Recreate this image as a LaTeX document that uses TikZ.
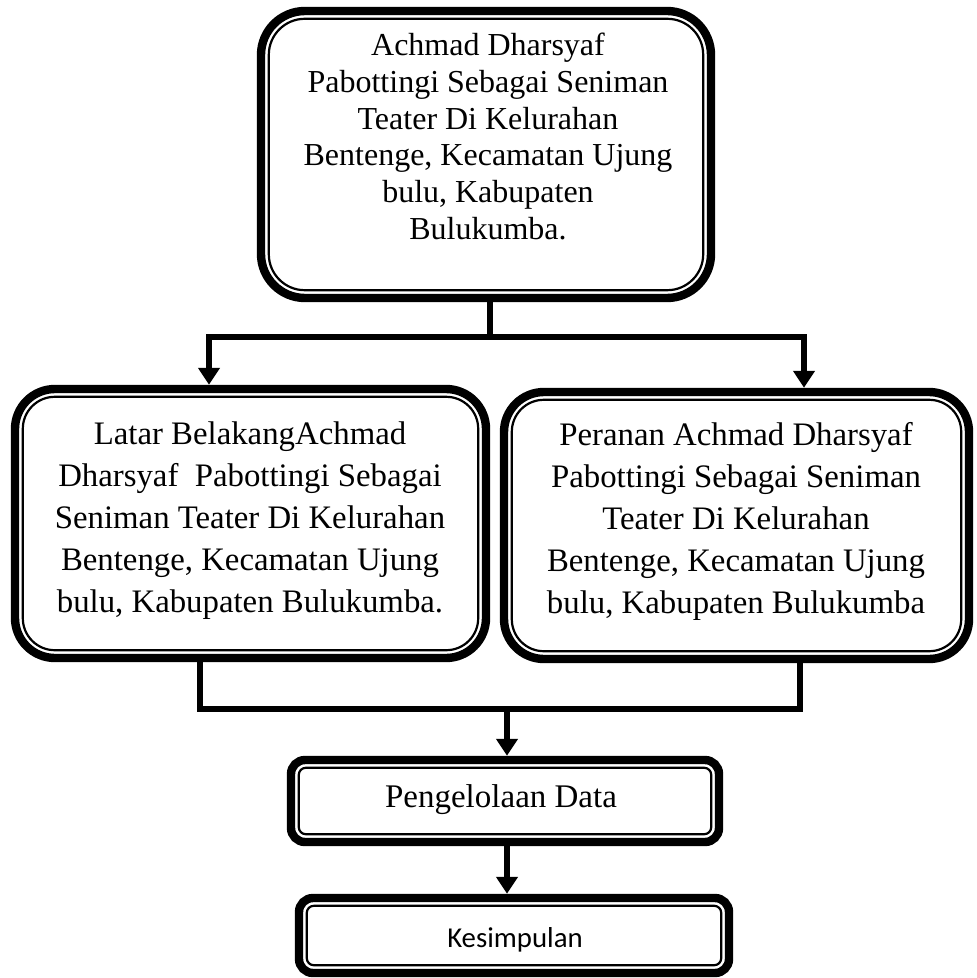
\documentclass[tikz,border=0pt]{standalone}
\usepackage{fontspec}
\setmainfont{Liberation Serif}
\newfontfamily\calib{Carlito}
\usetikzlibrary{arrows.meta}
\begin{document}
\begin{tikzpicture}[x=0.5pt,y=-0.5pt,
  obox/.style={draw=black, line width=4.2pt, inner sep=0pt},
  ibox/.style={draw=black, line width=1.1pt},
  txt/.style={align=center, inner sep=0pt},
  conn/.style={draw=black, line width=3pt, line join=miter},
  arr/.style={conn, -{Triangle[length=8.5pt,width=10.5pt]}}]
\useasboundingbox (0,0) rectangle (977,978);
% boxes
\node[obox, minimum width=225pt, minimum height=143.5pt, rounded corners=22pt] (top) at (486,154.5) {};
\draw[ibox, rounded corners=18pt] ([shift={(12,12)}]top.north west) rectangle ([shift={(-12,-12)}]top.south east);
\node[obox, minimum width=235.5pt, minimum height=134.5pt, rounded corners=20pt] (left) at (250.5,523.5) {};
\draw[ibox, rounded corners=16pt] ([shift={(12,12)}]left.north west) rectangle ([shift={(-12,-12)}]left.south east);
\node[obox, minimum width=232.5pt, minimum height=133.5pt, rounded corners=20pt] (right) at (736.5,525.5) {};
\draw[ibox, rounded corners=16pt] ([shift={(12,12)}]right.north west) rectangle ([shift={(-12,-12)}]right.south east);
\node[obox, minimum width=214pt, minimum height=41pt, rounded corners=7pt] (peng) at (505,801) {};
\draw[ibox, rounded corners=3.5pt] ([shift={(12,12)}]peng.north west) rectangle ([shift={(-12,-12)}]peng.south east);
\node[obox, minimum width=215pt, minimum height=37.5pt, rounded corners=7pt] (kes) at (514,935.5) {};
\draw[ibox, rounded corners=3.5pt] ([shift={(12,12)}]kes.north west) rectangle ([shift={(-12,-12)}]kes.south east);
% texts
\node[txt, font=\fontsize{16pt}{18.35pt}\selectfont] (ttop) at (488,136.5)
  {Achmad Dharsyaf\\Pabottingi Sebagai Seniman\\Teater Di Kelurahan\\Bentenge, Kecamatan Ujung\\bulu, Kabupaten\\Bulukumba.};
\node[txt, font=\fontsize{16.4pt}{21pt}\selectfont] (tleft) at (250,521)
  {Latar BelakangAchmad\\Dharsyaf\ \ Pabottingi Sebagai\\Seniman Teater Di Kelurahan\\Bentenge, Kecamatan Ujung\\bulu, Kabupaten Bulukumba.};
\node[txt, font=\fontsize{16.4pt}{21pt}\selectfont] (tright) at (736,521)
  {Peranan Achmad Dharsyaf\\Pabottingi Sebagai Seniman\\Teater Di Kelurahan\\Bentenge, Kecamatan Ujung\\bulu, Kabupaten Bulukumba};
\node[txt, font=\fontsize{16.5pt}{20pt}\selectfont] (tpeng) at (501,800) {Pengelolaan Data};
\node[txt, font=\calib\fontsize{14.4pt}{17pt}\selectfont] (tkes) at (515,940) {Kesimpulan};
% connectors
\coordinate (j1) at (490,337);
\coordinate (aL) at (209,337);
\coordinate (aR) at (804,337);
\draw[conn] (top.south -| j1) -- (j1);
\draw[arr] (j1) -- (aL) -- (aL |- left.north);
\draw[arr] (j1) -- (aR) -- (aR |- right.north);
\coordinate (bL) at (200,709);
\coordinate (bR) at (800,709);
\coordinate (bM) at (507,709);
\draw[conn] (bL |- left.south) -- (bL) -- (bR) -- (bR |- right.south);
\draw[arr] (bM) -- (bM |- peng.north);
\draw[arr] (peng.south -| bM) -- (kes.north -| bM);
\end{tikzpicture}
\end{document}
